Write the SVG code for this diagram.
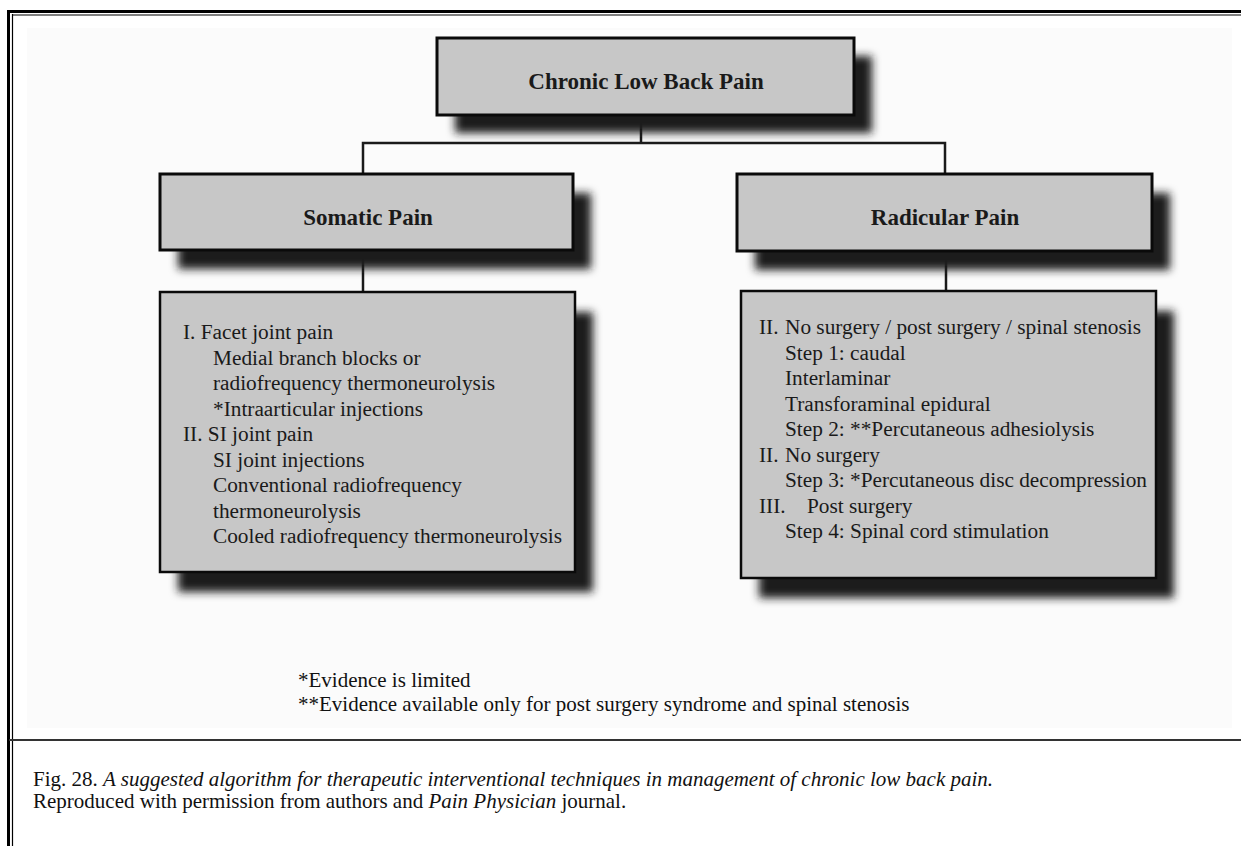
<svg xmlns="http://www.w3.org/2000/svg" width="1241" height="846" viewBox="0 0 1241 846">
<defs>
<filter id="sh" x="-10%" y="-20%" width="130%" height="150%">
<feGaussianBlur stdDeviation="4"/>
</filter>
<style>
.box{fill:#c7c7c7;stroke:#0a0a0a;stroke-width:3}
.shadow{fill:#1e1e1e;filter:url(#sh)}
.title{font-family:"Liberation Serif",serif;font-weight:bold;font-size:23px;fill:#1a1a1a;text-anchor:middle}
.body{font-family:"Liberation Serif",serif;font-size:21.3px;fill:#1a1a1a}
.note{font-family:"Liberation Serif",serif;font-size:21px;fill:#111}
.cap{font-family:"Liberation Serif",serif;font-size:21px;fill:#111}
.conn{stroke:#1a1a1a;stroke-width:2.5;fill:none}
</style>
</defs>
<rect width="1241" height="846" fill="#ffffff"/>
<rect x="27" y="28" width="1205" height="700" fill="#fbfbfb"/>
<!-- frame -->
<g id="frame" fill="none" stroke="#000">
<line x1="8" y1="11.5" x2="1241" y2="11.5" stroke-width="3"/>
<line x1="12" y1="15" x2="1241" y2="15" stroke-width="1.2"/>
<line x1="8.5" y1="10" x2="8.5" y2="846" stroke-width="3"/>
<line x1="12.5" y1="14" x2="12.5" y2="846" stroke-width="1.2"/>
<line x1="9" y1="740" x2="1241" y2="740" stroke-width="2" stroke="#333"/>
</g>
<!-- connectors -->
<g id="connectors">
<polyline class="conn" points="641,115 641,143"/>
<polyline class="conn" points="363,174 363,143 945,143 945,174"/>
<polyline class="conn" points="363,250 363,292"/>
<polyline class="conn" points="946,251 946,291"/>
</g>
<g id="node-root">
<rect class="shadow" x="455" y="56" width="417" height="77"/>
<rect class="box" x="437" y="38" width="417" height="77"/>
<text class="title" x="646" y="89">Chronic Low Back Pain</text>
</g>
<g id="node-somatic">
<rect class="shadow" x="178" y="193" width="413" height="76"/>
<rect class="box" x="160" y="174" width="413" height="76"/>
<text class="title" x="368" y="225">Somatic Pain</text>
</g>
<g id="node-radicular">
<rect class="shadow" x="755" y="193" width="415" height="77"/>
<rect class="box" x="737" y="174" width="415" height="77"/>
<text class="title" x="945" y="225">Radicular Pain</text>
</g>
<g id="node-somatic-list">
<rect class="shadow" x="178" y="312" width="415" height="280"/>
<rect class="box" x="160" y="292" width="415" height="280" style="stroke-width:2.5"/>
<text class="body" x="183" y="339">I. Facet joint pain</text>
<text class="body" x="213" y="364.5">Medial branch blocks or</text>
<text class="body" x="213" y="390">radiofrequency thermoneurolysis</text>
<text class="body" x="213" y="415.5">*Intraarticular injections</text>
<text class="body" x="183" y="441">II. SI joint pain</text>
<text class="body" x="213" y="466.5">SI joint injections</text>
<text class="body" x="213" y="492">Conventional radiofrequency</text>
<text class="body" x="213" y="517.5">thermoneurolysis</text>
<text class="body" x="213" y="543">Cooled radiofrequency thermoneurolysis</text>
</g>
<g id="node-radicular-list">
<rect class="shadow" x="759" y="311" width="415" height="287"/>
<rect class="box" x="741" y="291" width="415" height="287" style="stroke-width:2.5"/>
<text class="body" x="759" y="334">II.</text>
<text class="body" x="785" y="334">No surgery / post surgery / spinal stenosis</text>
<text class="body" x="785" y="359.5">Step 1: caudal</text>
<text class="body" x="785" y="385">Interlaminar</text>
<text class="body" x="785" y="410.5">Transforaminal epidural</text>
<text class="body" x="785" y="436">Step 2: **Percutaneous adhesiolysis</text>
<text class="body" x="759" y="461.5">II.</text>
<text class="body" x="785" y="461.5">No surgery</text>
<text class="body" x="785" y="487">Step 3: *Percutaneous disc decompression</text>
<text class="body" x="759" y="512.5">III.</text>
<text class="body" x="807" y="512.5">Post surgery</text>
<text class="body" x="785" y="538">Step 4: Spinal cord stimulation</text>
</g>
<g id="footnotes">
<text class="note" x="298" y="687">*Evidence is limited</text>
<text class="note" x="298" y="711">**Evidence available only for post surgery syndrome and spinal stenosis</text>
</g>
<g id="caption">
<text class="cap" x="33" y="786">Fig. 28. <tspan font-style="italic">A suggested algorithm for therapeutic interventional techniques in management of chronic low back pain.</tspan></text>
<text class="cap" x="33" y="808">Reproduced with permission from authors and <tspan font-style="italic">Pain Physician</tspan> journal.</text>
</g>
</svg>
